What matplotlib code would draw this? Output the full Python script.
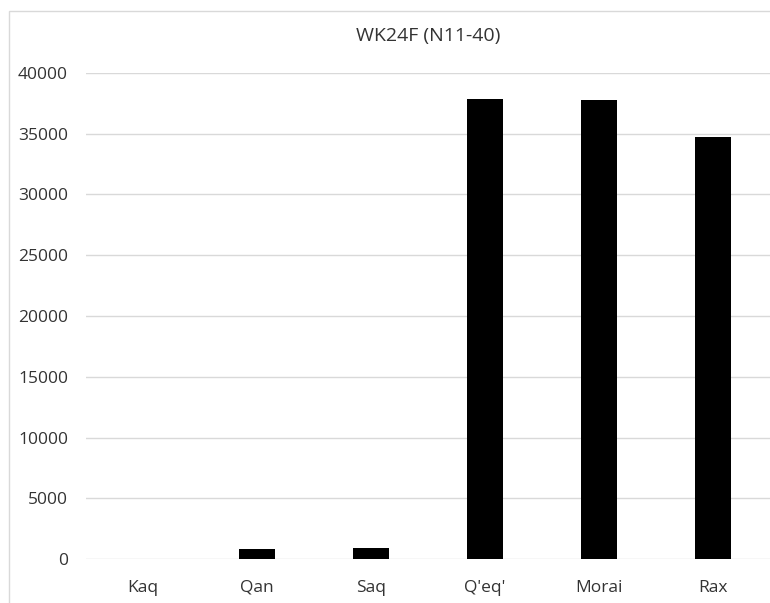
import matplotlib
matplotlib.use("Agg")
import matplotlib.pyplot as plt
import matplotlib.patches as mpatches

# ── Data ──────────────────────────────────────────────────────────────────────
categories = ["Kaq", "Qan", "Saq", "Q'eq'", "Morai", "Rax"]
values     = [0, 820, 900, 37900, 37800, 34700]
yticks     = [0, 5000, 10000, 15000, 20000, 25000, 30000, 35000, 40000]

plt.rcParams['font.family'] = ['Open Sans', 'DejaVu Sans']
txt_col  = '#333333'
grid_col = '#d9d9d9'

fig = plt.figure(figsize=(7.7, 6.03), dpi=100)
fig.patch.set_facecolor('white')

# chart-area border (right/bottom edges fall outside the image)
fig.add_artist(mpatches.Rectangle((9/770, -0.05), 1.2, 1 - 11/603 + 0.05,
                                  transform=fig.transFigure, fill=False,
                                  edgecolor=grid_col, linewidth=1.0))

ax = fig.add_axes([86/770, 1 - 559/603, 1 - 86/770, (559 - 73)/603])
x = range(len(categories))
ax.bar(x, values, width=0.32, color='black', zorder=3)

ax.set_xlim(-0.5, len(categories) - 0.5)
ax.set_ylim(0, 40000)
ax.set_yticks(yticks)
ax.set_yticklabels([str(v) for v in yticks])
ax.set_xticks(list(x))
ax.set_xticklabels(categories)

ax.grid(True, axis='y', color=grid_col, linewidth=1.0, zorder=0)
for sp in ax.spines.values():
    sp.set_visible(False)
ax.tick_params(axis='both', length=0, labelsize=12.5, colors=txt_col)
ax.tick_params(axis='y', pad=13)
ax.tick_params(axis='x', pad=15)

fig.text((86 + 770) / 2 / 770, 1 - 36/603, 'WK24F (N11-40)',
         ha='center', va='center', fontsize=14, color=txt_col)

plt.savefig('out.png', dpi=100, facecolor='white')
plt.close()
